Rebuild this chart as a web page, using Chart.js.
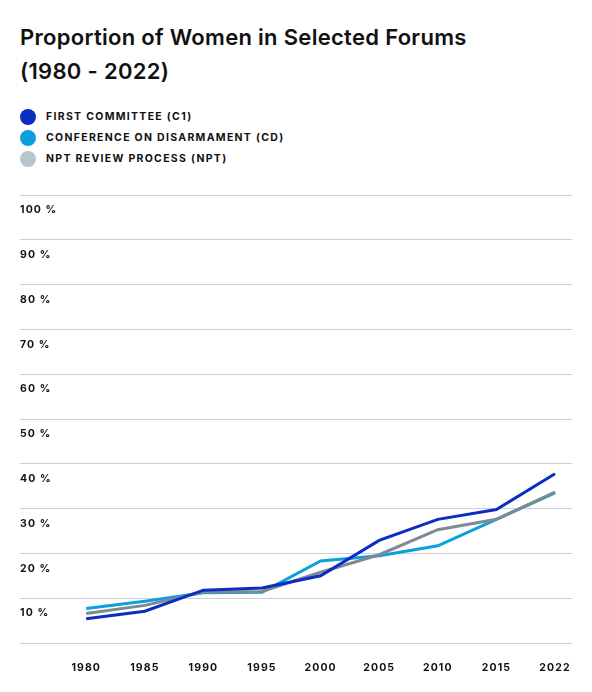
<!DOCTYPE html>
<html>
<head>
<meta charset="utf-8">
<script src="https://cdn.jsdelivr.net/npm/chart.js@4.4.0/dist/chart.umd.min.js"></script>
<style>
  html, body { margin: 0; padding: 0; background: #fff; }
  body { width: 592px; height: 692px; position: relative; overflow: hidden; font-family: Inter, "Noto Sans", sans-serif; color: #111; }
  #title { position: absolute; left: 20px; top: 20px; font-size: 22px; font-weight: 600; line-height: 34px; letter-spacing: 0.3px; }
  #legend { position: absolute; left: 20px; top: 106px; margin: 0; padding: 0; list-style: none; }
  #legend li { height: 21px; display: flex; align-items: center; font-size: 10.5px; font-weight: 700; letter-spacing: 1.3px; }
  #legend .dot { width: 16px; height: 16px; border-radius: 50%; margin-right: 10px; }
  #chart { position: absolute; left: 0; top: 0; }
</style>
</head>
<body>
<div id="title">Proportion of Women in Selected Forums<br>(1980 - 2022)</div>
<ul id="legend"></ul>
<canvas id="chart" width="592" height="692"></canvas>
<script>
// categories
const years = ["1980", "1985", "1990", "1995", "2000", "2005", "2010", "2015", "2022"];
// series, share of women in %
const firstCommittee = [5.4, 7.1, 11.8, 12.3, 15.0, 22.9, 27.6, 29.8, 37.8];
const conference = [7.7, 9.3, 11.2, 11.3, 18.3, 19.5, 21.7, 27.6, 33.5];
const nptReview = [6.6, 8.4, 11.4, 11.5, 15.8, 19.7, 25.3, 27.6, 33.7];
const seriesNames = ["FIRST COMMITTEE (C1)", "CONFERENCE ON DISARMAMENT (CD)", "NPT REVIEW PROCESS (NPT)"];
// y ticks
const yTicks = [0, 10, 20, 30, 40, 50, 60, 70, 80, 90, 100];

const lineColors = ["#0a2ec2", "#0ba0dc", "#7e8992"];
const dotColors = ["#0a2ec2", "#0ba0dc", "#b8c5cd"];

// legende en html, liste verticale
const legend = document.getElementById("legend");
seriesNames.forEach((name, i) => {
  legend.innerHTML += `<li><span class="dot" style="background:${dotColors[i]}"></span>${name}</li>`;
});

const toPoints = (arr) => arr.map((v, i) => ({ x: i, y: v }));

// espacement des lettres sur le canvas
const spacing = {
  id: "spacing",
  beforeLayout(chart) { chart.ctx.letterSpacing = "1.1px"; },
  beforeDraw(chart) { chart.ctx.letterSpacing = "1.1px"; },
};

const tickFont = { family: "Inter, 'Noto Sans', sans-serif", size: 10.5, weight: "bold" };

new Chart(document.getElementById("chart"), {
  type: "line",
  data: {
    datasets: [
      { label: seriesNames[0], data: toPoints(firstCommittee), borderColor: lineColors[0], order: 0 },
      { label: seriesNames[1], data: toPoints(conference), borderColor: lineColors[1], order: 2 },
      { label: seriesNames[2], data: toPoints(nptReview), borderColor: lineColors[2], order: 1 },
    ],
  },
  plugins: [spacing],
  options: {
    responsive: false,
    animation: false,
    layout: { padding: { left: 20, right: 20, top: 195, bottom: 0 } },
    elements: {
      line: { borderWidth: 3, tension: 0, fill: false },
      point: { radius: 0, hoverRadius: 0 },
    },
    plugins: {
      legend: { display: false },
      title: { display: false },
      tooltip: { enabled: false },
    },
    scales: {
      x: {
        type: "linear",
        min: -1.13,
        max: 8.29,
        afterBuildTicks: (scale) => {
          scale.ticks = years.map((y, i) => ({ value: i }));
        },
        afterFit: (scale) => { scale.height = 49; },
        grid: { display: false, drawTicks: false },
        border: { display: false },
        ticks: {
          color: "#111",
          font: tickFont,
          padding: 19,
          maxRotation: 0,
          autoSkip: false,
          callback: (v) => years[v],
        },
      },
      y: {
        min: 0,
        max: 100,
        afterBuildTicks: (scale) => {
          scale.ticks = yTicks.map((v) => ({ value: v }));
        },
        afterFit: (scale) => { scale.width = 0; },
        grid: { color: "#c8d1d8", lineWidth: 1, drawTicks: false },
        border: { display: false },
        ticks: {
          mirror: true,
          padding: 0,
          labelOffset: 15,
          color: "#111",
          font: tickFont,
          callback: (v) => (v === 0 ? "" : v + " %"),
        },
      },
    },
  },
});
</script>
</body>
</html>
